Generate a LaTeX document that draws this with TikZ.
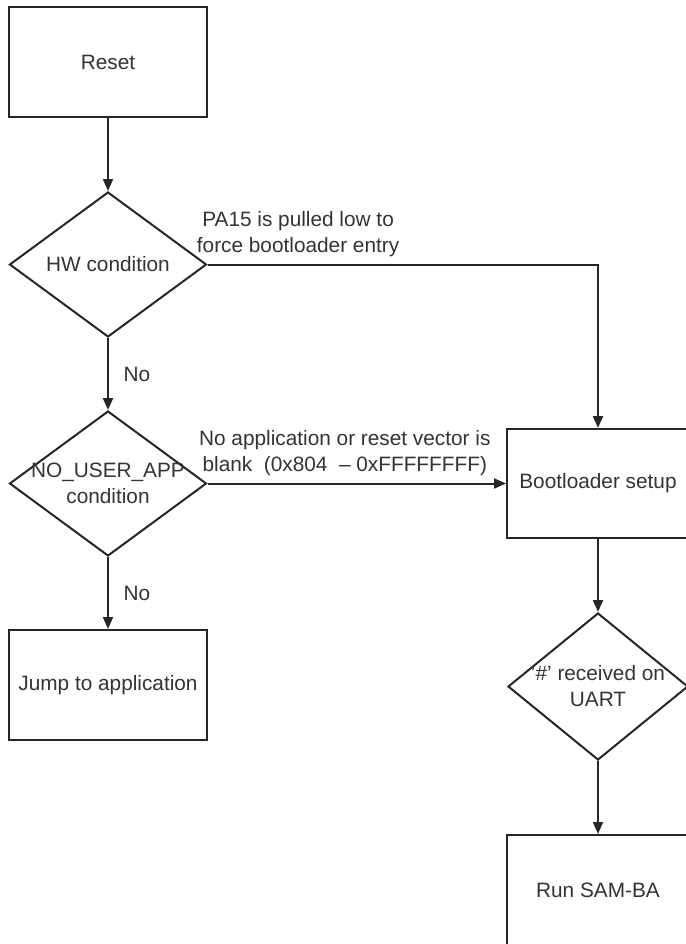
\documentclass[tikz,border=0pt]{standalone}
\usepackage{fontspec}
\setmainfont{Liberation Sans}
\usetikzlibrary{shapes.geometric,arrows.meta}

\begin{document}
\begin{tikzpicture}[x=0.5pt,y=-0.5pt,line width=1pt,color=black!85,
	every node/.style={text=black!80,font=\fontsize{10.4}{13}\selectfont},
	box/.style={draw,rectangle,minimum width=99pt,minimum height=55pt,inner sep=0pt},
	dia/.style={draw,diamond,minimum width=98.5pt,minimum height=72.5pt,inner sep=0pt},
	lbl/.style={align=center},
	flow/.style={-{Triangle[length=6pt,width=5pt]}}]
			\clip (0,0) rectangle (686,944);
			\node[box] (reset) at (108,62) {Reset};
			\node[dia,label={[lbl]center:HW condition}] (hw) at (108,264.5) {};
			\node[dia,label={[lbl]center:NO\_USER\_APP\\condition}] (app) at (108,483.5) {};
			\node[box] (jump) at (108,685) {Jump to application};
			\node[box,minimum width=91pt,minimum height=54.5pt] (boot) at (598,483.5) {Bootloader setup};
			\node[dia,minimum width=90pt,minimum height=73.5pt,label={[lbl]center:'\#' received on\\UART}] (uart) at (598,686.5) {};
			\node[box,minimum width=91pt] (samba) at (598,890) {Run SAM-BA};
			\draw[flow] (reset) -- (hw);
			\draw[flow] (hw.east) -- node[lbl,above,pos=0.232]{PA15 is pulled low to\\force bootloader entry} (hw.east -| boot.north) -- (boot.north);
			\draw[flow] (hw) -- node[right,xshift=4pt]{No} (app);
			\draw[flow] (app.east) -- node[lbl,above,pos=0.46]{No application or reset vector is\\blank \ (0x804 \ -- 0xFFFFFFFF)} (boot.west);
			\draw[flow] (app) -- node[right,xshift=4pt]{No} (jump);
			\draw[flow] (boot) -- (uart);
			\draw[flow] (uart) -- (samba);
			\end{tikzpicture}
\end{document}
